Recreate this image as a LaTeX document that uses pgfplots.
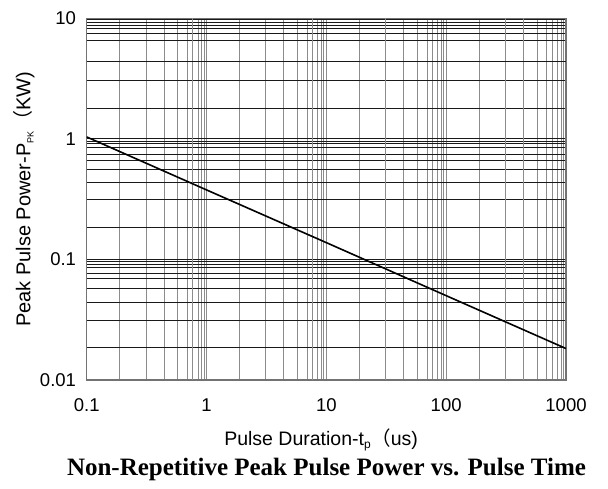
\documentclass[border=0pt]{standalone}
\usepackage{fontspec}
\setmainfont{Liberation Sans}
\newfontfamily\titlefont{Liberation Serif}
\newfontfamily\cjk{Noto Sans CJK SC}
\usepackage{pgfplots}
\pgfplotsset{compat=1.18}
\begin{document}
\begin{tikzpicture}
\useasboundingbox (-86.7pt,-109pt) rectangle (521.3pt,380pt);
\begin{axis}[
  at={(0pt,0pt)}, anchor=south west,
  scale only axis, width=479.3pt, height=361.5pt,
  xmode=log, ymode=log,
  xmin=0.1, xmax=1000, ymin=0.01, ymax=10,
  xtick={0.1,1,10,100,1000}, xticklabels={0.1,1,10,100,1000},
  ytick={0.01,0.1,1,10}, yticklabels={0.01,0.1,1,10},
  minor xtick={0.188,0.313,0.442,0.575,0.692,0.851,0.912,0.955,
               1.88,3.13,4.42,5.75,6.92,8.51,9.12,9.55,
               18.8,44.2,57.5,69.2,76.7,85.1,91.2,95.5,
               188,575,692,767,851,912,955},
  minor ytick={0.01875,0.0309,0.0437,0.0575,0.0692,0.0759,0.0851,0.0912,0.0955,
               0.186,0.316,0.437,0.562,0.66,0.741,0.851,0.912,0.955,
               1.8,3.07,6.6,7.5,8.3,8.8,9.33,9.77},
  grid=both,
  major tick length=0pt, minor tick length=0pt,
  major x grid style={black!45, line width=1pt},
  minor x grid style={black!45, line width=1pt},
  major y grid style={black!90, line width=1pt},
  minor y grid style={black!90, line width=1pt},
  extra x ticks={0.767,7.67,31.3,313,442},
  extra x tick labels={},
  extra x tick style={grid=major, major grid style={black, line width=1pt}, major tick length=0pt},
  extra y ticks={4.37},
  extra y tick labels={},
  extra y tick style={grid=major, major grid style={black, line width=2pt}, major tick length=0pt},
  axis line style={black!55, line width=1.2pt},
  xticklabel style={font=\fontsize{18.5}{20}\selectfont, anchor=center, inner sep=0pt, yshift=-25.5pt},
  yticklabel style={font=\fontsize{18.5}{20}\selectfont, anchor=east, inner sep=0pt, xshift=-10.5pt},
  xlabel={Pulse Duration-t\textsubscript{\fontsize{12}{12}\selectfont p}{\cjk （}us)},
  xlabel style={at={(axis description cs:0.489,-0.166)}, anchor=center, inner sep=0pt, font=\fontsize{19.5}{21}\selectfont},
  ylabel={Peak Pulse Power-P\textsubscript{\fontsize{9}{9}\selectfont PK}{\cjk （}KW)},
  ylabel style={at={(axis description cs:-0.1308,0.4993)}, anchor=center, inner sep=0pt, rotate=0, font=\fontsize{20}{22}\selectfont},
]
\addplot[black, line width=1.6pt, no markers] coordinates {(0.1,1.04) (1,0.378) (10,0.138) (100,0.0501) (1000,0.01824)};
\end{axis}
\node[font=\titlefont\bfseries\fontsize{25}{28}\selectfont, inner sep=0pt] at (239.8pt,-89pt) {Non-Repetitive Peak Pulse Power vs. Pulse Time};
\end{tikzpicture}
\end{document}
